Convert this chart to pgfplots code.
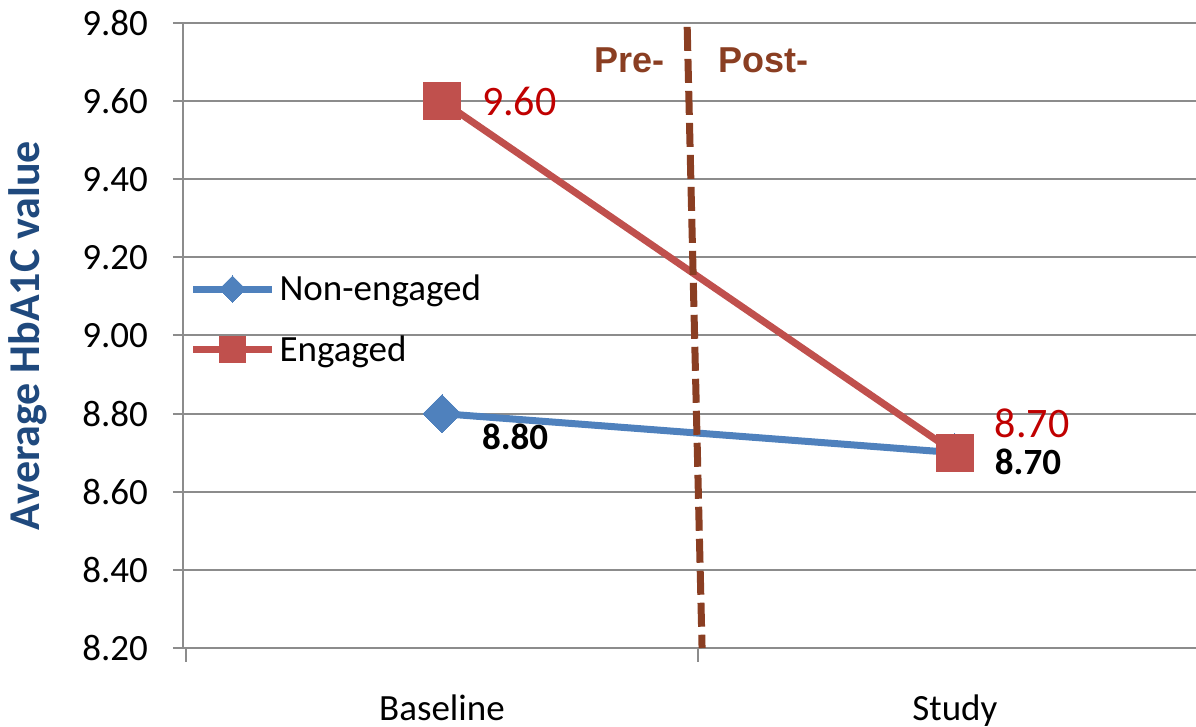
\documentclass[border=0pt]{standalone}
\usepackage{fontspec}
\setmainfont{Carlito}
\newfontfamily\arial{Liberation Sans}
\usepackage{pgfplots}
\pgfplotsset{compat=1.18}
\usepackage{pgfplotstable}

\definecolor{gridgray}{HTML}{8C8C8C}
\definecolor{xlblue}{HTML}{4F81BD}
\definecolor{xlred}{HTML}{C0504D}
\definecolor{lblred}{HTML}{C00000}
\definecolor{ylabblue}{HTML}{1F497D}
\definecolor{divbrown}{HTML}{8A3E22}

% x: 0 = Baseline, 1 = Study; dy = vertical shift of the value label (pt)
\pgfplotstableread{
x y lab dy
0 8.80 8.80 -11.5
1 8.70 8.70 -4.5
}\nonengaged
\pgfplotstableread{
x y lab dy
0 9.60 9.60 0
1 8.70 8.70 14.5
}\engaged

\begin{document}
\begin{tikzpicture}
\begin{axis}[
  at={(91.5pt,39.5pt)}, anchor=south west,
  scale only axis,
  width=506.5pt, height=312.5pt,
  xmin=-0.505, xmax=1.47,
  ymin=8.2, ymax=9.8,
  ytick={8.2,8.4,...,9.81},
  xtick={0,1}, xticklabels={Baseline,Study},
  minor xtick={-0.5,0.5},
  major x tick style={draw=none},
  minor tick length=7pt,
  major tick length=5pt,
  tick align=outside,
  axis x line*=bottom, axis y line*=left,
  axis line style={gridgray, line width=1pt},
  tick style={gridgray, line width=1pt},
  ymajorgrids,
  grid style={gridgray, line width=1pt},
  clip=false,
  font=\fontsize{18.5}{22}\selectfont,
  yticklabel style={xshift=-9pt, /pgf/number format/.cd, fixed, fixed zerofill, precision=2,
    assume math mode=true},
  yticklabel={\pgfmathprintnumber{\tick}},
  xticklabel style={yshift=-15pt},
  ylabel={\bfseries Average HbA1C value},
  ylabel style={at={(axis description cs:-0.153,0.5)}, anchor=center, rotate=0,
    color=ylabblue, font=\fontsize{22}{26}\selectfont},
  legend style={at={(axis cs:-0.493,9.041)}, anchor=west, draw=none, fill=none,
    inner sep=0pt, row sep=12pt, font=\fontsize{18.5}{22}\selectfont,
    nodes={inner sep=2pt}},
  legend cell align=left,
  legend image code/.code={
    \draw[mark repeat=2, mark phase=2, #1, every mark/.append style={scale=0.7}]
      plot coordinates {(0pt,0pt) (19.75pt,0pt) (39.5pt,0pt)};
  },
]
\addplot[color=xlblue, line width=3.5pt, mark=square*,
  mark options={rotate=45, solid, fill=xlblue, draw=xlblue, line width=0pt}, mark size=6.7pt,
  point meta=explicit symbolic,
  visualization depends on={\thisrow{dy} \as \dy},
  nodes near coords,
  every node near coord/.append style={anchor=west, inner sep=0pt, xshift=20pt, yshift=\dy pt,
    black, font=\fontsize{18.5}{22}\selectfont\bfseries}]
  table[x=x, y=y, meta=lab] {\nonengaged};
\addlegendentry{Non-engaged}
\addplot[color=xlred, line width=3.5pt, mark=square*,
  mark options={solid, fill=xlred, draw=xlred, line width=0pt}, mark size=9.25pt,
  point meta=explicit symbolic,
  visualization depends on={\thisrow{dy} \as \dy},
  nodes near coords,
  every node near coord/.append style={anchor=west, inner sep=0pt, xshift=20pt, yshift=\dy pt,
    lblred, font=\fontsize{21}{25}\selectfont}]
  table[x=x, y=y, meta=lab] {\engaged};
\addlegendentry{Engaged}
% pre/post divider
\addplot[color=divbrown, line width=3.5pt, dash pattern=on 12pt off 4pt, forget plot, mark=none]
  coordinates {(0.478,9.79) (0.507,8.2)};
\node[divbrown, font=\arial\bfseries\fontsize{18}{21}\selectfont] at (axis cs:0.366,9.705) {Pre-};
\node[divbrown, font=\arial\bfseries\fontsize{18}{21}\selectfont] at (axis cs:0.626,9.705) {Post-};
\end{axis}
\pgfresetboundingbox
\path[use as bounding box] (0,0) rectangle (598pt,363.5pt);
\end{tikzpicture}
\end{document}
